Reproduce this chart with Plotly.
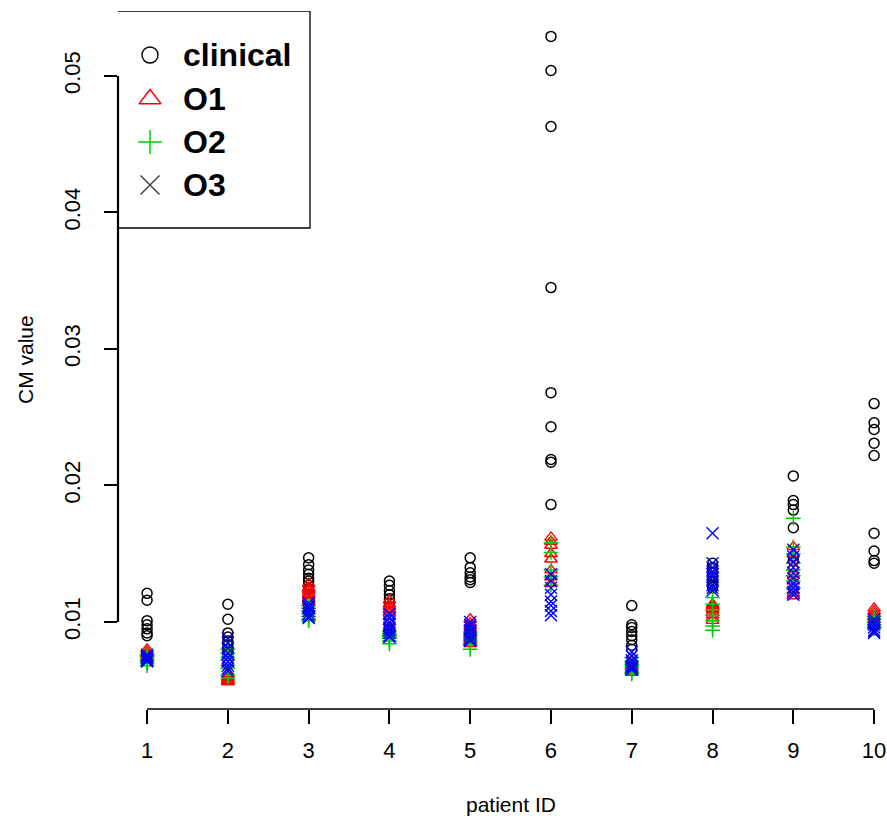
import plotly.graph_objects as go

patients = [1, 2, 3, 4, 5, 6, 7, 8, 9, 10]

clinical = [
    [0.0121, 0.0116, 0.0101, 0.0098, 0.0095, 0.0092, 0.0090],
    [0.0113, 0.0102, 0.0092, 0.0089, 0.0086, 0.0083, 0.0080, 0.0078],
    [0.0147, 0.0142, 0.0138, 0.0135, 0.0132, 0.0130, 0.0127, 0.0124],
    [0.0130, 0.0127, 0.0123, 0.0120, 0.0117, 0.0114, 0.0111],
    [0.0147, 0.0140, 0.0136, 0.0133, 0.0131, 0.0129],
    [0.0529, 0.0504, 0.0463, 0.0345, 0.0268, 0.0243, 0.0219, 0.0217, 0.0186],
    [0.0112, 0.0098, 0.0096, 0.0093, 0.0090, 0.0087, 0.0083, 0.0080],
    [0.0143, 0.0140, 0.0136, 0.0133, 0.0130, 0.0127, 0.0125],
    [0.0207, 0.0189, 0.0186, 0.0182, 0.0169, 0.0148, 0.0145],
    [0.0260, 0.0246, 0.0241, 0.0231, 0.0222, 0.0165, 0.0152, 0.0145, 0.0143],
]

o1 = [
    [0.0080, 0.0078, 0.0076, 0.0075, 0.0074, 0.0073, 0.0077],
    [0.0056, 0.0057, 0.0058, 0.0059, 0.0060, 0.0057, 0.0062, 0.0070, 0.0074],
    [0.0128, 0.0125, 0.0123, 0.0121, 0.0119, 0.0117, 0.0115, 0.0120, 0.0124],
    [0.0116, 0.0113, 0.0111, 0.0109, 0.0107, 0.0104, 0.0100, 0.0096, 0.0093],
    [0.0102, 0.0099, 0.0097, 0.0095, 0.0093, 0.0091, 0.0089, 0.0087, 0.0085, 0.0084],
    [0.0162, 0.0159, 0.0156, 0.0150, 0.0146, 0.0138, 0.0133, 0.0128],
    [0.0072, 0.0070, 0.0068, 0.0066, 0.0064, 0.0063, 0.0065],
    [0.0113, 0.0111, 0.0109, 0.0107, 0.0105, 0.0103, 0.0110, 0.0112, 0.0101],
    [0.0155, 0.0150, 0.0145, 0.0140, 0.0135, 0.0130, 0.0126, 0.0123, 0.0121, 0.0119],
    [0.0110, 0.0108, 0.0106, 0.0104, 0.0102, 0.0100, 0.0098],
]

o2 = [
    [0.0070, 0.0072, 0.0074, 0.0076, 0.0068, 0.0075],
    [0.0080, 0.0077, 0.0074, 0.0072, 0.0068, 0.0066, 0.0061, 0.0059],
    [0.0112, 0.0110, 0.0108, 0.0106, 0.0104, 0.0102, 0.0101],
    [0.0093, 0.0091, 0.0090, 0.0089, 0.0088, 0.0086, 0.0084],
    [0.0092, 0.0090, 0.0088, 0.0086, 0.0084, 0.0083, 0.0080],
    [0.0158, 0.0151, 0.0138, 0.0133, 0.0127],
    [0.0074, 0.0071, 0.0069, 0.0067, 0.0065, 0.0063, 0.0062],
    [0.0118, 0.0113, 0.0109, 0.0105, 0.0101, 0.0097, 0.0094],
    [0.0176, 0.0155, 0.0150, 0.0143, 0.0138, 0.0134, 0.0130, 0.0125],
    [0.0104, 0.0102, 0.0100, 0.0098, 0.0096, 0.0095],
]

o3 = [
    [0.0071, 0.0073, 0.0075, 0.0072, 0.0074, 0.0076],
    [0.0088, 0.0085, 0.0081, 0.0077, 0.0074, 0.0071, 0.0068, 0.0066, 0.0064],
    [0.0114, 0.0112, 0.0110, 0.0108, 0.0106, 0.0104, 0.0103, 0.0111],
    [0.0106, 0.0103, 0.0100, 0.0098, 0.0096, 0.0094, 0.0092, 0.0090, 0.0089],
    [0.0100, 0.0098, 0.0096, 0.0094, 0.0092, 0.0090, 0.0088, 0.0087, 0.0086],
    [0.0135, 0.0130, 0.0125, 0.0120, 0.0115, 0.0112, 0.0108, 0.0105],
    [0.0078, 0.0075, 0.0072, 0.0070, 0.0068, 0.0066, 0.0065, 0.0067],
    [0.0165, 0.0143, 0.0140, 0.0137, 0.0135, 0.0133, 0.0130, 0.0127, 0.0125, 0.0123],
    [0.0153, 0.0148, 0.0144, 0.0140, 0.0136, 0.0132, 0.0128, 0.0125, 0.0122, 0.0120],
    [0.0102, 0.0100, 0.0098, 0.0096, 0.0094, 0.0093, 0.0092],
]

series_names = ["clinical", "O1", "O2", "O3"]
y_tick_vals = [0.01, 0.02, 0.03, 0.04, 0.05]
y_tick_text = ["0.01", "0.02", "0.03", "0.04", "0.05"]
x_tick_text = [str(p) for p in patients]

FONT = "Liberation Sans, Arial, sans-serif"
W, H = 887, 821
# plot area in page pixels
PX_LEFT, PX_RIGHT, PX_TOP, PX_BOTTOM = 118, 887, 11, 709
L, R, T, B = PX_LEFT, W - PX_RIGHT, PX_TOP, H - PX_BOTTOM


def flat(series):
    xs, ys = [], []
    for p, vals in zip(patients, series):
        for v in vals:
            xs.append(p)
            ys.append(v)
    return xs, ys


styles = [
    dict(symbol="circle-open", size=10, color="#000000", line=dict(width=1.5, color="#000000")),
    dict(symbol="triangle-up-open", size=11, color="#FF0000", line=dict(width=1.4, color="#FF0000")),
    dict(symbol="cross-thin-open", size=10.5, color="#00CD00", line=dict(width=1.5, color="#00CD00")),
    dict(symbol="x-thin-open", size=12, color="#0000FF", line=dict(width=1.4, color="#0000FF")),
]

fig = go.Figure()
for name, series, st in zip(series_names, [clinical, o1, o2, o3], styles):
    xs, ys = flat(series)
    fig.add_trace(go.Scatter(x=xs, y=ys, mode="markers", name=name, marker=st,
                             showlegend=False, hoverinfo="skip"))

# Custom legend in page-pixel coordinates (overlay axes)
leg_box = dict(x0=117, x1=310, y0=11, y1=228)
leg_sym_x = 150
leg_text_x = 181
leg_rows_y = [55, 99, 142, 185]
leg_styles = [
    dict(symbol="circle-open", size=16, color="#000000", line=dict(width=1.4, color="#222222")),
    dict(symbol="triangle-up-open", size=19, color="#FF0000", line=dict(width=1.4, color="#FF3030")),
    dict(symbol="cross-thin-open", size=17, color="#00CD00", line=dict(width=1.5, color="#00CD00")),
    dict(symbol="x-thin-open", size=19, color="#333333", line=dict(width=1.3, color="#333333")),
]
for name, yy, st in zip(series_names, leg_rows_y, leg_styles):
    fig.add_trace(go.Scatter(x=[leg_sym_x], y=[yy], mode="markers", marker=st,
                             xaxis="x2", yaxis="y2", showlegend=False, hoverinfo="skip"))
    fig.add_annotation(x=leg_text_x, y=yy, xref="x2", yref="y2", text="<b>%s</b>" % name,
                       showarrow=False, xanchor="left", yanchor="middle",
                       font=dict(family=FONT, size=32, color="#000000"))

fig.add_shape(type="rect", xref="x2", yref="y2", **leg_box,
              line=dict(color="#000000", width=1.3), fillcolor="rgba(0,0,0,0)", layer="above")

# R-style axis lines spanning first to last tick
fig.add_shape(type="line", xref="x", yref="paper", x0=patients[0], x1=patients[-1], y0=0, y1=0,
              line=dict(color="#000000", width=1.6))
fig.add_shape(type="line", xref="paper", yref="y", x0=0, x1=0, y0=y_tick_vals[0], y1=y_tick_vals[-1],
              line=dict(color="#000000", width=2.2))

# axis titles
fig.add_annotation(xref="paper", yref="paper",
                   x=(511 - PX_LEFT) / (PX_RIGHT - PX_LEFT),
                   y=(PX_BOTTOM - 804) / (PX_BOTTOM - PX_TOP),
                   text="patient ID", showarrow=False, xanchor="center", yanchor="middle",
                   font=dict(family=FONT, size=21, color="#000000"))
fig.add_annotation(xref="paper", yref="paper", x=(25 - PX_LEFT) / (PX_RIGHT - PX_LEFT), y=0.5,
                   text="CM value", showarrow=False, textangle=-90, xanchor="center", yanchor="middle",
                   font=dict(family=FONT, size=21, color="#000000"))

fig.update_layout(
    width=W, height=H,
    margin=dict(l=L, r=R, t=T, b=B),
    paper_bgcolor="white", plot_bgcolor="white",
    showlegend=False,
    xaxis=dict(range=[0.64, 0.64 + (PX_RIGHT - PX_LEFT) / 80.78], tickmode="array",
               tickvals=patients, ticktext=x_tick_text, ticks="outside", ticklen=14,
               tickwidth=1.6, tickcolor="#000000", showgrid=False, zeroline=False, showline=False,
               tickfont=dict(family=FONT, size=22, color="#000000"), ticklabelstandoff=8,
               fixedrange=True),
    yaxis=dict(range=[0.003626, 0.05476], tickmode="array", tickvals=y_tick_vals,
               ticktext=y_tick_text, ticks="outside", ticklen=13, tickwidth=2.2,
               tickcolor="#000000", showgrid=False, zeroline=False, showline=False,
               tickangle=-90, tickfont=dict(family=FONT, size=22, color="#000000"),
               ticklabelstandoff=15, fixedrange=True),
    xaxis2=dict(range=[PX_LEFT, PX_RIGHT], overlaying="x", visible=False, fixedrange=True),
    yaxis2=dict(range=[PX_BOTTOM, PX_TOP], overlaying="y", visible=False, fixedrange=True),
)

fig.write_html("out.html", config={"displayModeBar": False},
               post_script="document.body.style.margin='0';document.body.style.overflow='hidden';")
